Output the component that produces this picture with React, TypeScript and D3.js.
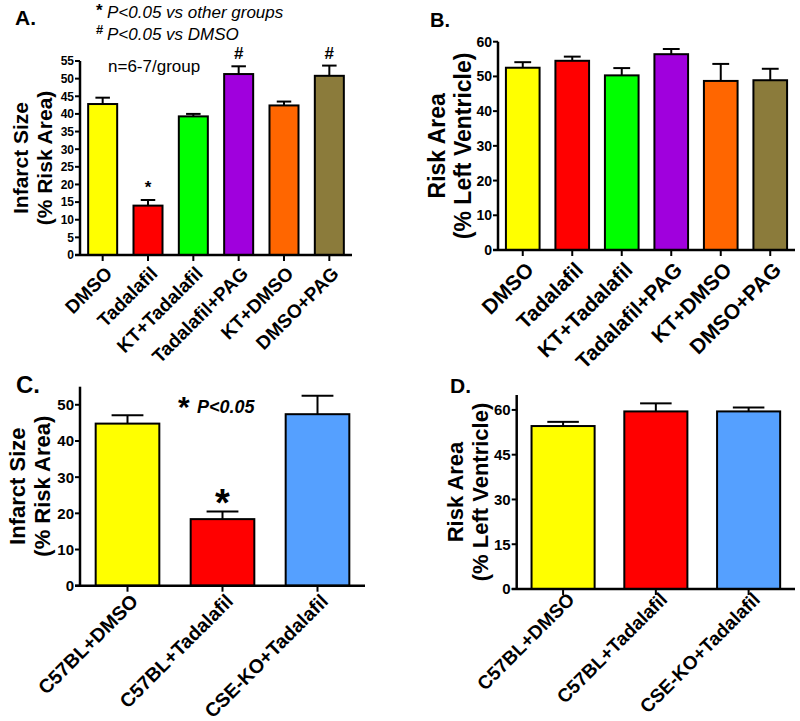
import React from 'react';
import * as d3 from 'd3';

// panel A / B groups
const groupsAB = ['DMSO', 'Tadalafil', 'KT+Tadalafil', 'Tadalafil+PAG', 'KT+DMSO', 'DMSO+PAG'];
const colorsAB = ['#FFFF00', '#FF0000', '#00FF00', '#A000DD', '#FF6600', '#8B7B3B'];

const infarctA = [42.8, 14.0, 39.3, 51.3, 42.4, 50.8];
const infarctErrA = [1.8, 1.6, 0.7, 2.2, 1.1, 2.9];
const marksA = ['', '*', '', '#', '', '#'];
const ticksA = [0, 5, 10, 15, 20, 25, 30, 35, 40, 45, 50, 55];

const riskB = [52.5, 54.5, 50.3, 56.4, 48.7, 48.9];
const riskErrB = [1.6, 1.2, 2.1, 1.5, 4.9, 3.3];
const ticksB = [0, 10, 20, 30, 40, 50, 60];

// panel C / D groups
const groupsCD = ['C57BL+DMSO', 'C57BL+Tadalafil', 'CSE-KO+Tadalafil'];
const colorsCD = ['#FFFF00', '#FF0000', '#55A0FF'];

const infarctC = [44.8, 18.4, 47.4];
const infarctErrC = [2.3, 2.1, 5.1];
const marksC = ['', '*', ''];
const ticksC = [0, 10, 20, 30, 40, 50];

const riskD = [54.6, 59.5, 59.5];
const riskErrD = [1.4, 2.7, 1.3];
const ticksD = [0, 15, 30, 45, 60];

const FONT = '"Liberation Sans", Arial, sans-serif';

type PanelProps = {
  left: number; right: number; top: number; bottom: number; yMax: number;
  ticks: number[]; tickFont: number;
  groups: string[]; values: number[]; errors: number[]; colors: string[];
  pad: number; labelFont: number; labelDx: number; labelDy: number;
  title: string[]; titleX: number; titleFont: number;
  marks?: string[]; markFont?: number; markDy?: number;
};

const Panel = (p: PanelProps) => {
  const y = d3.scaleLinear().domain([0, p.yMax]).range([p.bottom, p.top]);
  const x = d3.scaleBand<string>()
    .domain(p.groups)
    .range([p.left, p.right])
    .paddingInner(p.pad)
    .paddingOuter(p.pad / 2);
  const bw = x.bandwidth();
  const midY = (p.top + p.bottom) / 2;

  return (
    <g fontFamily={FONT} fontWeight="bold">
      {/* bars + error bars */}
      {p.groups.map((g, i) => {
        const x0 = x(g) as number;
        const cx = x0 + bw / 2;
        const v = p.values[i];
        const e = p.errors[i];
        return (
          <g key={g}>
            <line x1={cx} x2={cx} y1={y(v)} y2={y(v + e)} stroke="#000" strokeWidth={2} />
            <line x1={cx - bw / 4} x2={cx + bw / 4} y1={y(v + e)} y2={y(v + e)} stroke="#000" strokeWidth={2} />
            <rect x={x0} y={y(v)} width={bw} height={y(0) - y(v)} fill={p.colors[i]} stroke="#000" strokeWidth={2} />
            {p.marks && p.marks[i] && (
              <text x={cx} y={y(v + e) + (p.markDy ?? 0)} textAnchor="middle" fontSize={p.markFont}>
                {p.marks[i]}
              </text>
            )}
          </g>
        );
      })}

      {/* y axis */}
      <line x1={p.left} x2={p.left} y1={p.top} y2={p.bottom} stroke="#000" strokeWidth={2.5} />
      {p.ticks.map(t => (
        <g key={t}>
          <line x1={p.left - 5} x2={p.left} y1={y(t)} y2={y(t)} stroke="#000" strokeWidth={2} />
          <text x={p.left - 6} y={y(t)} dy="0.36em" textAnchor="end" fontSize={p.tickFont}>{t}</text>
        </g>
      ))}

      {/* x axis */}
      <line x1={p.left - 5} x2={p.right} y1={p.bottom} y2={p.bottom} stroke="#000" strokeWidth={2.5} />
      {p.groups.map(g => {
        const cx = (x(g) as number) + bw / 2;
        return (
          <g key={'t' + g}>
            <line x1={cx} x2={cx} y1={p.bottom} y2={p.bottom + 6} stroke="#000" strokeWidth={2} />
            <text
              transform={`translate(${cx + p.labelDx},${p.bottom + p.labelDy}) rotate(-45)`}
              textAnchor="end"
              dy="0.35em"
              fontSize={p.labelFont}
            >
              {g}
            </text>
          </g>
        );
      })}

      {/* y title */}
      <text transform={`translate(${p.titleX},${midY}) rotate(-90)`} textAnchor="middle" fontSize={p.titleFont}>
        {p.title.map((l, i) => (
          <tspan key={l} x={0} dy={i === 0 ? 0 : '1.15em'}>{l}</tspan>
        ))}
      </text>
    </g>
  );
};

export default function App() {
  return (
    <svg width={800} height={721} style={{ position: 'absolute', left: 0, top: 0, background: '#fff' }}>
      <rect width={800} height={721} fill="#fff" />

      {/* A */}
      <text x={15} y={25} fontFamily={FONT} fontWeight="bold" fontSize={21}>A.</text>
      <g fontFamily={FONT}>
        <text x={96} y={16} fontSize={17} fontWeight="bold">*</text>
        <text x={107} y={18} fontSize={17} fontStyle="italic">P&lt;0.05 vs other groups</text>
        <text x={96} y={34} fontSize={13} fontWeight="bold">#</text>
        <text x={107} y={40} fontSize={17} fontStyle="italic">P&lt;0.05 vs DMSO</text>
        <text x={108} y={72} fontSize={17}>n=6-7/group</text>
      </g>
      <Panel
        left={80} right={352} top={61} bottom={255} yMax={55}
        ticks={ticksA} tickFont={12}
        groups={groupsAB} values={infarctA} errors={infarctErrA} colors={colorsAB}
        pad={0.36} labelFont={19} labelDx={6} labelDy={15}
        title={['Infarct Size', '(% Risk  Area)']} titleX={28} titleFont={21}
        marks={marksA} markFont={17} markDy={-7}
      />

      {/* B */}
      <text x={430} y={27} fontFamily={FONT} fontWeight="bold" fontSize={20}>B.</text>
      <Panel
        left={498} right={795} top={41.7} bottom={250} yMax={60}
        ticks={ticksB} tickFont={14}
        groups={groupsAB} values={riskB} errors={riskErrB} colors={colorsAB}
        pad={0.32} labelFont={21} labelDx={7} labelDy={16}
        title={['Risk Area', '(% Left Ventricle)']} titleX={445} titleFont={23}
      />

      {/* C */}
      <text x={16} y={393} fontFamily={FONT} fontWeight="bold" fontSize={24}>C.</text>
      <g fontFamily={FONT} fontWeight="bold">
        <text x={178} y={417} fontSize={30}>*</text>
        <text x={197} y={413} fontSize={18} fontStyle="italic">P&lt;0.05</text>
      </g>
      <Panel
        left={80} right={365} top={386.7} bottom={585.7} yMax={55}
        ticks={ticksC} tickFont={15}
        groups={groupsCD} values={infarctC} errors={infarctErrC} colors={colorsCD}
        pad={0.33} labelFont={19.5} labelDx={7} labelDy={12}
        title={['Infarct Size', '(% Risk Area)']} titleX={25} titleFont={22}
        marks={marksC} markFont={38} markDy={4}
      />

      {/* D */}
      <text x={450} y={393} fontFamily={FONT} fontWeight="bold" fontSize={21}>D.</text>
      <Panel
        left={516.7} right={795} top={395} bottom={589} yMax={65}
        ticks={ticksD} tickFont={15}
        groups={groupsCD} values={riskD} errors={riskErrD} colors={colorsCD}
        pad={0.32} labelFont={19} labelDx={8} labelDy={7}
        title={['Risk Area', '(% Left Ventricle)']} titleX={463} titleFont={22}
      />
    </svg>
  );
}
